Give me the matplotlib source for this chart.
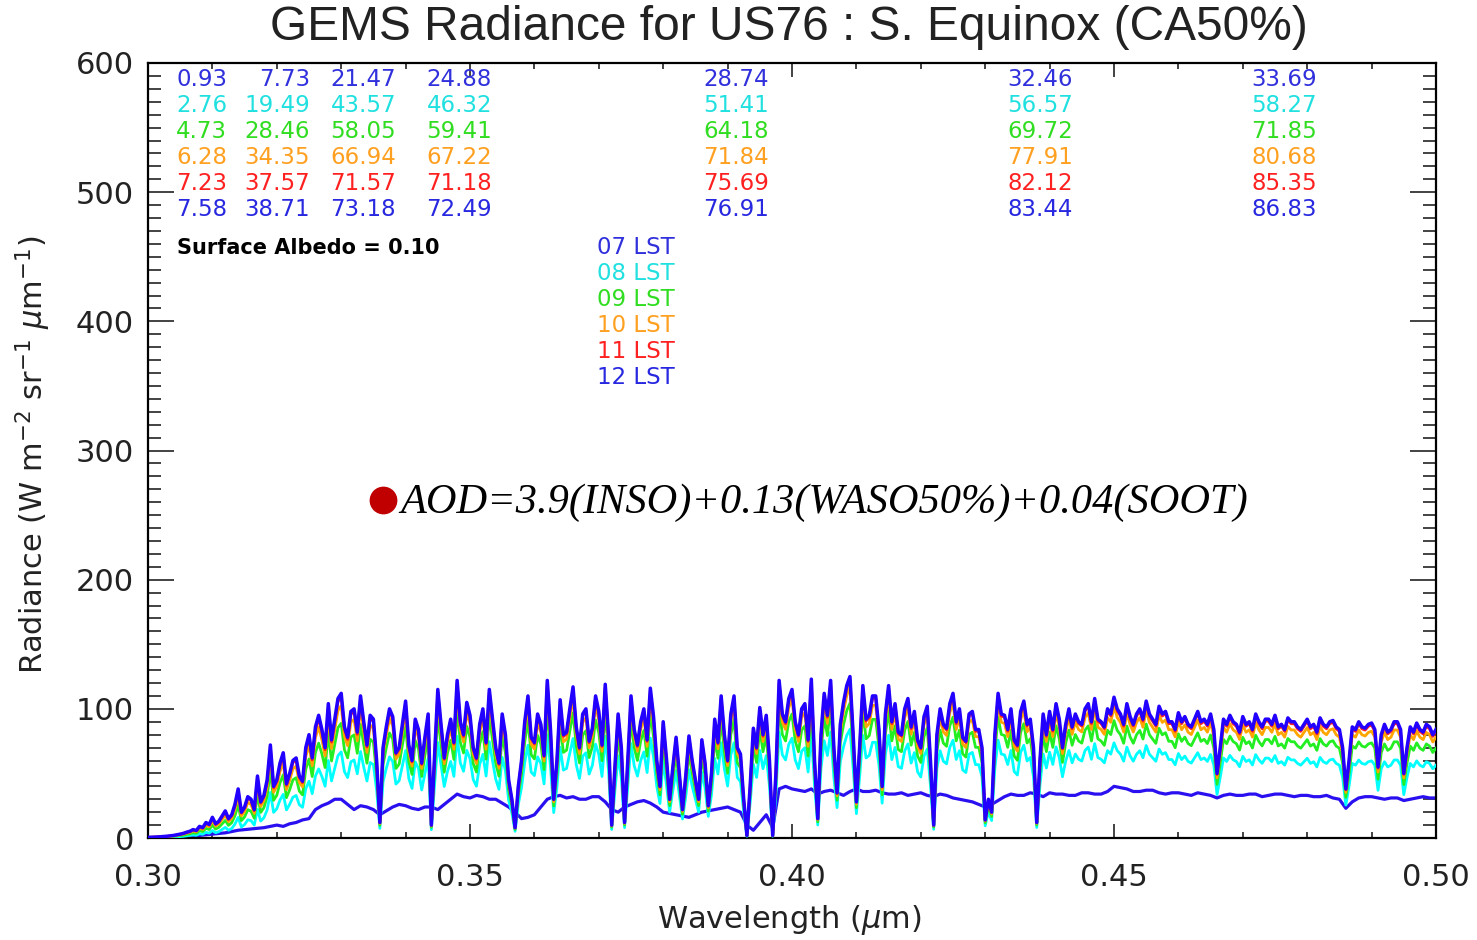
import matplotlib.pyplot as plt
import numpy as np
from matplotlib.ticker import MultipleLocator, FormatStrFormatter

# 12 LST radiance, every 0.5 nm from 300 to 500 nm
wl_12 = np.round(np.arange(0.300, 0.50025, 0.0005), 4)
rad_12 = [
    0.5, 0.6, 0.7, 0.8, 1.0, 1.2, 1.4, 1.7, 2.0, 2.5, 3.0, 3.6, 4.5, 5.2, 6.5, 5.8, 9.0, 8.0, 12.0, 10.5,
    16, 11, 13, 17, 21, 15, 18, 26, 38, 20, 24, 32, 30, 22, 48, 28, 33, 45, 72, 40,
    45, 58, 66, 42, 50, 60, 62, 48, 44, 70, 80, 62, 86, 95, 84, 70, 104, 76, 92, 108,
    112, 86, 78, 98, 100, 82, 110, 90, 72, 95, 92, 60, 12, 70, 86, 100, 94, 66, 70, 88,
    106, 72, 60, 92, 84, 58, 78, 96, 10, 64, 115, 88, 62, 80, 92, 74, 122, 90, 80, 105,
    95, 70, 62, 88, 100, 74, 115, 92, 70, 58, 96, 80, 45, 30, 8, 40, 60, 90, 110, 78,
    74, 96, 88, 64, 122, 84, 30, 60, 107, 80, 82, 100, 117, 86, 70, 96, 100, 75, 85, 110,
    98, 72, 119, 80, 10, 55, 96, 70, 12, 60, 110, 84, 72, 90, 100, 76, 116, 94, 60, 40,
    90, 62, 30, 55, 78, 50, 22, 48, 79, 60, 45, 30, 76, 58, 25, 50, 92, 74, 110, 80,
    60, 96, 110, 70, 65, 30, 2, 40, 85, 70, 101, 80, 95, 60, 2, 50, 122, 96, 90, 108,
    115, 90, 80, 100, 104, 76, 123, 60, 15, 80, 112, 95, 122, 70, 35, 88, 105, 118, 125, 80,
    28, 70, 118, 92, 95, 110, 110, 84, 40, 96, 118, 90, 104, 82, 80, 100, 108, 86, 98, 76,
    70, 94, 102, 60, 10, 80, 100, 88, 85, 104, 112, 90, 100, 78, 75, 96, 98, 84, 84, 70,
    14, 30, 20, 80, 112, 96, 95, 84, 100, 76, 72, 98, 106, 88, 92, 70, 12, 60, 96, 80,
    98, 84, 104, 92, 70, 88, 100, 86, 96, 90, 88, 100, 104, 90, 108, 92, 90, 86, 100, 96,
    109, 100, 96, 88, 104, 94, 88, 96, 100, 92, 106, 96, 92, 88, 102, 96, 98, 90, 90, 84,
    97, 90, 94, 88, 86, 92, 98, 90, 92, 88, 96, 84, 50, 70, 92, 88, 95, 90, 88, 82,
    94, 88, 90, 84, 96, 90, 86, 92, 92, 88, 95, 86, 88, 84, 93, 90, 90, 86, 84, 88,
    92, 86, 88, 82, 93, 88, 86, 90, 91, 86, 84, 70, 38, 60, 86, 84, 90, 86, 85, 88,
    89, 84, 55, 80, 88, 82, 84, 90, 90, 84, 50, 70, 86, 82, 89, 84, 82, 88, 86, 80,
    84,
]

# 07 LST radiance (lowest curve), every 1 nm
wl_07 = np.round(np.arange(0.300, 0.5005, 0.001), 3)
rad_07 = [
    0.2, 0.3, 0.4, 0.5, 0.7, 0.9, 1.2, 1.6, 2, 2.5,
    3, 3.5, 4, 5, 6, 6.5, 7, 7.5, 8, 9,
    10, 9, 11, 12, 14, 15, 22, 25, 27, 30,
    30, 26, 22, 25, 24, 22, 18, 21, 24, 26,
    25, 23, 22, 24, 24, 22, 26, 30, 34, 32,
    31, 33, 32, 30, 30, 27, 24, 20, 15, 16,
    18, 24, 30, 32, 33, 31, 32, 30, 30, 32,
    32, 28, 22, 20, 24, 26, 28, 29, 27, 24,
    20, 19, 18, 17, 16, 18, 20, 21, 22, 23,
    24, 22, 20, 10, 6, 12, 18, 8, 38, 40,
    38, 37, 36, 38, 34, 36, 37, 35, 33, 36,
    38, 36, 36, 37, 35, 34, 34, 35, 33, 34,
    35, 33, 32, 34, 33, 31, 30, 29, 28, 26,
    24, 26, 29, 32, 34, 33, 33, 35, 34, 32,
    35, 34, 34, 33, 33, 35, 35, 34, 34, 36,
    40, 39, 38, 36, 36, 37, 37, 35, 34, 35,
    35, 34, 33, 35, 34, 33, 31, 33, 34, 33,
    33, 34, 34, 32, 33, 34, 34, 33, 32, 33,
    33, 32, 32, 33, 31, 30, 23, 28, 31, 32,
    32, 31, 30, 31, 31, 29, 30, 31, 32, 31, 31,
]

# numbers printed in the upper table (one row per hour)
hours = ["07", "08", "09", "10", "11", "12"]
table_wl = [0.31, 0.32, 0.33, 0.34, 0.38, 0.44, 0.48]
table_07 = [0.93, 7.73, 21.47, 24.88, 28.74, 32.46, 33.69]
table_08 = [2.76, 19.49, 43.57, 46.32, 51.41, 56.57, 58.27]
table_09 = [4.73, 28.46, 58.05, 59.41, 64.18, 69.72, 71.85]
table_10 = [6.28, 34.35, 66.94, 67.22, 71.84, 77.91, 80.68]
table_11 = [7.23, 37.57, 71.57, 71.18, 75.69, 82.12, 85.35]
table_12 = [7.58, 38.71, 73.18, 72.49, 76.91, 83.44, 86.83]
tables = [table_07, table_08, table_09, table_10, table_11, table_12]

line_colors = ["#2a10f0", "#00ffff", "#22ee22", "#ffa500", "#ff2020", "#2200ff"]
text_colors = ["#3030dd", "#20e0e0", "#30dd20", "#ffa020", "#ff2020", "#2828e0"]

fig = plt.figure(figsize=(14.77, 9.40), dpi=100)
ax = fig.add_axes([148 / 1477, 102 / 940, 1288 / 1477, 775 / 940])

# 07 LST has its own readings; 08-11 follow the noon curve scaled by the table ratios
rad_12 = np.array(rad_12)
ax.plot(wl_07, rad_07, color=line_colors[0], lw=2.3, zorder=2)
for k in range(1, 5):
    ratio = np.interp(wl_12, table_wl, np.array(tables[k]) / np.array(table_12))
    ax.plot(wl_12, rad_12 * ratio, color=line_colors[k], lw=2.0, zorder=2 + k)
ax.plot(wl_12, rad_12, color=line_colors[5], lw=2.5, zorder=8)

ax.set_xlim(0.30, 0.50)
ax.set_ylim(0, 600)
ax.xaxis.set_major_locator(MultipleLocator(0.05))
ax.xaxis.set_minor_locator(MultipleLocator(0.01))
ax.xaxis.set_major_formatter(FormatStrFormatter("%.2f"))
ax.yaxis.set_major_locator(MultipleLocator(100))
ax.yaxis.set_minor_locator(MultipleLocator(10))
ax.tick_params(which="both", direction="in", top=True, right=True, width=1.2,
               labelsize=22, colors="#222222")
ax.xaxis.set_tick_params(which="major", length=10, pad=18)
ax.xaxis.set_tick_params(which="minor", length=4.5)
ax.yaxis.set_tick_params(which="major", length=19, pad=10)
ax.yaxis.set_tick_params(which="minor", length=9.5)
for s in ax.spines.values():
    s.set_linewidth(1.6)

ax.set_xlabel(r"Wavelength ($\mu$m)", fontsize=22, color="#222222")
ax.xaxis.set_label_coords(0.498, -0.084)
ax.set_ylabel(r"Radiance (W m$^{-2}$ sr$^{-1}$ $\mu$m$^{-1}$)", fontsize=22, color="#222222")
ax.yaxis.set_label_coords(-0.074, 0.494)

fig.suptitle("GEMS Radiance for US76 : S. Equinox (CA50%)", x=789 / 1477, y=1 - 28 / 940,
             va="center", fontsize=34.5, family="Liberation Sans", color="#222222")


def px(x, y):
    return (x - 148) / 1288, (838 - y) / 775


col_right = [227, 310, 396, 492, 769, 1073, 1317]
for r, vals in enumerate(tables):
    for c, v in enumerate(vals):
        ax.text(*px(col_right[c], 79 + 26 * r), f"{v:.2f}", transform=ax.transAxes,
                ha="right", va="center", fontsize=16.5, color=text_colors[r], zorder=10)

for r, h in enumerate(hours):
    ax.text(*px(597, 248 + 26 * r), f"{h} LST", transform=ax.transAxes,
            ha="left", va="center", fontsize=16.5, color=text_colors[r], zorder=10)

ax.text(*px(177, 248), "Surface Albedo = 0.10", transform=ax.transAxes, ha="left",
        va="center", fontsize=15, fontweight="bold", color="black", zorder=10)

ax.plot(*px(383, 500), "o", transform=ax.transAxes, color="#c00000", markersize=19,
        zorder=10, clip_on=False)
ax.text(*px(400, 503), "AOD=3.9(INSO)+0.13(WASO50%)+0.04(SOOT)", transform=ax.transAxes,
        ha="left", va="center", fontsize=30.5, style="italic", family="Liberation Serif",
        color="black", zorder=10)

fig.savefig("out.png", dpi=100)
